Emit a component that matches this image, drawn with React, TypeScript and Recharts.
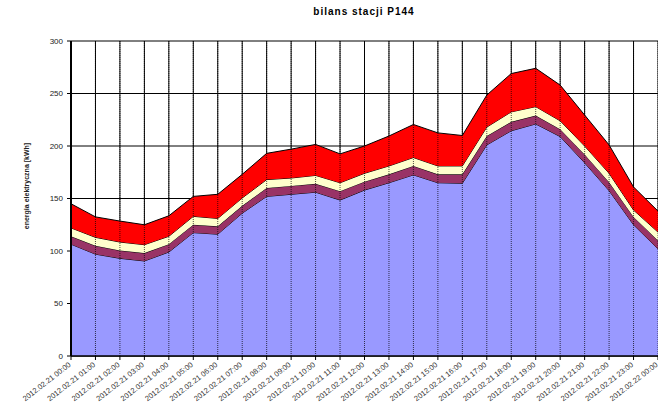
import React from "react"
import {
  Area,
  AreaChart,
  CartesianGrid,
  ReferenceLine,
  XAxis,
  YAxis,
} from "recharts"

const FONT = '"Liberation Sans", Arial, sans-serif'

// godziny pomiarów
const hours = [
  "2012.02.21 00:00", "2012.02.21 01:00", "2012.02.21 02:00", "2012.02.21 03:00",
  "2012.02.21 04:00", "2012.02.21 05:00", "2012.02.21 06:00", "2012.02.21 07:00",
  "2012.02.21 08:00", "2012.02.21 09:00", "2012.02.21 10:00", "2012.02.21 11:00",
  "2012.02.21 12:00", "2012.02.21 13:00", "2012.02.21 14:00", "2012.02.21 15:00",
  "2012.02.21 16:00", "2012.02.21 17:00", "2012.02.21 18:00", "2012.02.21 19:00",
  "2012.02.21 20:00", "2012.02.21 21:00", "2012.02.21 22:00", "2012.02.21 23:00",
  "2012.02.22 00:00",
]

// warstwy (od dołu)
const blue = [106.5, 97, 93, 90.5, 99, 117.5, 116, 136, 152, 154, 156, 148.5, 158, 165, 172.5, 165, 164.5, 201, 214.5, 221, 209, 184, 157.5, 125, 102]
const purple = [7.5, 8, 7.5, 7.5, 7.5, 7.5, 7.5, 7, 8, 8, 8, 8.5, 8, 8, 8.5, 8, 8.5, 8.5, 8.5, 8, 7, 8, 8, 7.5, 8]
const yellow = [8, 8, 8, 8, 7.5, 8, 7.5, 7.5, 8, 7.5, 8, 8, 8, 8, 8, 8, 8, 8.5, 9.5, 8.5, 8, 8, 8.5, 6.5, 8]
const red = [23, 19.5, 20, 19, 19.5, 19, 23, 22.5, 25, 27.5, 29.5, 27.5, 26, 28.5, 31.5, 31.5, 29, 30.5, 36.5, 36.5, 34, 29.5, 27, 22, 20]

const yTicks = [0, 50, 100, 150, 200, 250, 300]

const data = hours.map((t, i) => ({
  t,
  a: blue[i],
  b: purple[i],
  c: yellow[i],
  d: red[i],
}))

const XTick = ({ x, y, payload }: any) => (
  <g transform={`translate(${x},${y})`}>
    <text
      x={0}
      y={0}
      dx={-2}
      dy={3}
      textAnchor="end"
      transform="rotate(-38)"
      fontSize={7.5}
      fontFamily={FONT}
      fill="#333"
    >
      {payload.value}
    </text>
  </g>
)

export default function App() {
  return (
    <div
      style={{
        position: "absolute",
        left: 0,
        top: 0,
        width: 658,
        height: 402,
        overflow: "hidden",
        background: "#fff",
        fontFamily: FONT,
      }}
    >
      <div
        style={{
          position: "absolute",
          left: 264,
          top: 6,
          width: 200,
          textAlign: "center",
          fontSize: 10,
          fontWeight: "bold",
          letterSpacing: 1,
          color: "#000",
        }}
      >
        bilans stacji P144
      </div>
      <div
        style={{
          position: "absolute",
          left: 27 - 60,
          top: 186 - 6,
          width: 120,
          height: 12,
          lineHeight: "12px",
          textAlign: "center",
          fontSize: 7,
          fontWeight: "bold",
          color: "#222",
          transform: "rotate(-90deg)",
        }}
      >
        energia elektryczna [kWh]
      </div>
      <AreaChart
        width={662}
        height={402}
        data={data}
        margin={{ top: 41, right: 4, left: 0, bottom: 0 }}
      >
        <CartesianGrid stroke="#000" strokeWidth={1} />
        <XAxis
          dataKey="t"
          interval={0}
          height={46}
          tick={<XTick />}
          tickSize={4}
          tickMargin={2}
          axisLine={{ stroke: "#000", strokeWidth: 1.5 }}
          tickLine={{ stroke: "#000" }}
        />
        <YAxis
          width={71}
          domain={[0, 300]}
          ticks={yTicks}
          tickSize={4}
          tickMargin={4}
          tick={{ fontSize: 8, fill: "#222", fontFamily: FONT }}
          axisLine={{ stroke: "#000", strokeWidth: 2 }}
          tickLine={{ stroke: "#000" }}
        />
        <Area type="linear" dataKey="a" stackId="1" fill="#9999FF" fillOpacity={1} stroke="#000" strokeWidth={1} isAnimationActive={false} />
        <Area type="linear" dataKey="b" stackId="1" fill="#993366" fillOpacity={1} stroke="#000" strokeWidth={1} isAnimationActive={false} />
        <Area type="linear" dataKey="c" stackId="1" fill="#FFFFCC" fillOpacity={1} stroke="#000" strokeWidth={1} isAnimationActive={false} />
        <Area type="linear" dataKey="d" stackId="1" fill="#FF0000" fillOpacity={1} stroke="#000" strokeWidth={1} isAnimationActive={false} />
        {hours.map((h) => (
          <ReferenceLine key={h} x={h} stroke="#000" strokeOpacity={0.7} strokeDasharray="1 1" />
        ))}
      </AreaChart>
    </div>
  )
}
